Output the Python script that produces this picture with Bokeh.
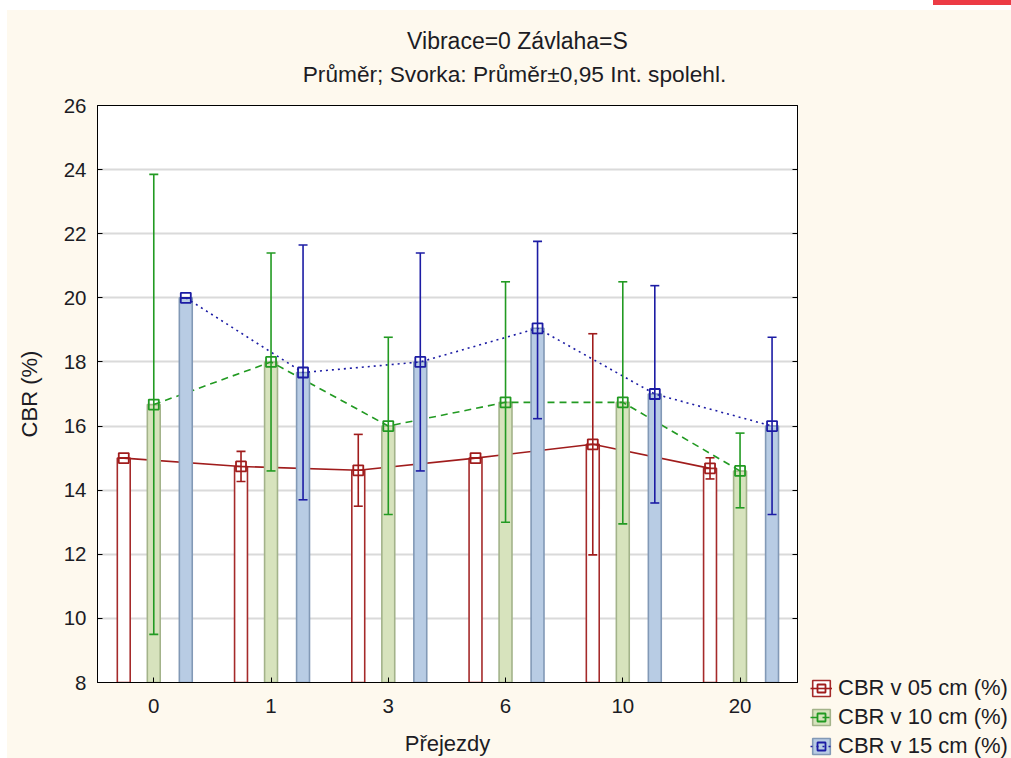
from bokeh.plotting import figure
from bokeh.models import (ColumnDataSource, Whisker, TeeHead, Legend, LegendItem, Label,
                          LinearAxis, FixedTicker, Range1d, Div)
from bokeh.layouts import column, row
from bokeh.embed import file_html
from bokeh.resources import INLINE

# Number of passes (x categories)
passes = ["0", "1", "3", "6", "10", "20"]

# CBR at 5 cm depth: mean and 95 % confidence limits
cbr05_mean = [15.0, 14.74, 14.62, 15.0, 15.43, 14.68]
cbr05_low = [15.0, 14.27, 13.50, 15.0, 11.98, 14.35]
cbr05_high = [15.0, 15.21, 15.74, 15.0, 18.88, 15.01]

# CBR at 10 cm depth
cbr10_mean = [16.67, 18.0, 16.0, 16.74, 16.74, 14.6]
cbr10_low = [9.5, 14.6, 13.24, 13.0, 12.95, 13.45]
cbr10_high = [23.85, 21.4, 18.77, 20.5, 20.5, 15.78]

# CBR at 15 cm depth
cbr15_mean = [20.0, 17.67, 18.0, 19.05, 17.0, 16.0]
cbr15_low = [20.0, 13.7, 14.6, 16.23, 13.6, 13.24]
cbr15_high = [20.0, 21.65, 21.4, 21.76, 20.38, 18.77]

series_names = ["CBR v 05 cm (%)", "CBR v 10 cm (%)", "CBR v 15 cm (%)"]
title_text = "Vibrace=0 Závlaha=S"
subtitle_text = "Průměr; Svorka: Průměr±0,95 Int. spolehl."

Y0, Y1 = 8, 26
FONT = "Liberation Sans"
TXT = "#1c1c24"
PAGE_BG = "#fef9ee"

# ---------------------------------------------------------------- title strip
head = figure(width=1004, height=83, x_range=Range1d(0, 1), y_range=Range1d(0, 1),
              output_backend="svg", toolbar_location=None,
              x_axis_location=None, y_axis_location=None,
              min_border=0, outline_line_color=None,
              background_fill_color=PAGE_BG, border_fill_color=PAGE_BG)
head.grid.visible = False
head.frame_align = False
head.add_layout(Label(x=510, y=53, x_units="screen", y_units="screen",
                      text=title_text, text_align="center", text_baseline="middle",
                      text_font=FONT, text_font_size="23px", text_color=TXT))
head.add_layout(Label(x=507, y=20, x_units="screen", y_units="screen",
                      text=subtitle_text, text_align="center", text_baseline="middle",
                      text_font=FONT, text_font_size="22.7px", text_color=TXT))

# ---------------------------------------------------------------- main chart
p = figure(width=798, height=665,
           x_range=Range1d(-0.48, 5.49), y_range=Range1d(Y0, Y1),
           output_backend="svg", toolbar_location=None,
           min_border_left=90, min_border_right=8,
           min_border_top=12, min_border_bottom=76,
           background_fill_color="white", border_fill_color=PAGE_BG,
           outline_line_color="black", outline_line_width=1)
p.frame_align = False

yticks = list(range(Y0, Y1 + 1, 2))

p.xgrid.visible = False
p.ygrid.grid_line_color = "#dadada"
p.ygrid.grid_line_width = 2
p.ygrid.ticker = FixedTicker(ticks=yticks)

p.xaxis.ticker = FixedTicker(ticks=list(range(len(passes))))
p.xaxis.major_label_overrides = {i: s for i, s in enumerate(passes)}
p.yaxis.ticker = FixedTicker(ticks=yticks)

for ax in (p.xaxis[0], p.yaxis[0]):
    ax.axis_line_color = "black"
    ax.major_tick_line_color = "black"
    ax.major_tick_in = 5
    ax.major_tick_out = 0
    ax.minor_tick_line_color = None
    ax.major_label_text_font = FONT
    ax.major_label_text_font_size = "20.5px"
    ax.major_label_text_color = TXT
    ax.axis_label_text_font = FONT
    ax.axis_label_text_font_size = "22px"
    ax.axis_label_text_font_style = "normal"
    ax.axis_label_text_color = TXT

p.xaxis.axis_label = "Přejezdy"
p.yaxis.axis_label = "CBR (%)"
p.xaxis.major_label_standoff = 16
p.yaxis.major_label_standoff = 11
p.xaxis.axis_label_standoff = 15
p.yaxis.axis_label_standoff = 19

# inward ticks along the right edge of the frame
right_ax = LinearAxis(ticker=FixedTicker(ticks=yticks), major_label_text_color=None,
                      major_label_text_font_size="1px",
                      axis_line_color="black", major_tick_line_color="black",
                      major_tick_in=5, major_tick_out=0, minor_tick_line_color=None,
                      major_label_standoff=0)
p.add_layout(right_ax, "right")

styles = [
    dict(mean=cbr05_mean, low=cbr05_low, high=cbr05_high, off=-0.256,
         fill="white", edge="#a52a2a", color="#a01c1c", dash="solid"),
    dict(mean=cbr10_mean, low=cbr10_low, high=cbr10_high, off=0.0,
         fill="#d7e3bd", edge="#a3b38a", color="#229a22", dash="7 5"),
    dict(mean=cbr15_mean, low=cbr15_low, high=cbr15_high, off=0.273,
         fill="#b8cce4", edge="#8299b6", color="#1c1ca4", dash="2 4"),
]

# ---------------------------------------------------------------- legend panel
# Hidden copies of the series renderers give the legend its swatches.
key = figure(width=206, height=665, x_range=Range1d(0, 1), y_range=Range1d(0, 1),
             output_backend="svg", toolbar_location=None,
             x_axis_location=None, y_axis_location=None,
             min_border=0, outline_line_color=None,
             background_fill_color=PAGE_BG, border_fill_color=PAGE_BG)
key.grid.visible = False
key.frame_align = False

items = []
for name, s in zip(series_names, styles):
    xs = [i + s["off"] for i in range(len(passes))]
    src = ColumnDataSource(dict(x=xs, mean=s["mean"], low=s["low"], high=s["high"]))
    bar_style = dict(fill_color=s["fill"], line_color=s["edge"], line_width=1.6)
    line_style = dict(line_color=s["color"], line_width=1.6, line_dash=s["dash"])
    mark_style = dict(marker="square", size=10, fill_color=None,
                      line_color=s["color"], line_width=1.8)

    p.vbar(x="x", top="mean", bottom=Y0, width=0.11, source=src, **bar_style)
    p.line("x", "mean", source=src, **line_style)
    whisk = Whisker(base="x", lower="low", upper="high", source=src,
                    line_color=s["color"], line_width=1.6, level="glyph",
                    upper_head=TeeHead(size=9, line_color=s["color"], line_width=1.6),
                    lower_head=TeeHead(size=9, line_color=s["color"], line_width=1.6))
    p.add_layout(whisk)
    p.scatter("x", "mean", source=src, **mark_style)

    kb = key.vbar(x="x", top="mean", bottom=Y0, width=0.11, source=src,
                  visible=False, **bar_style)
    kl = key.line("x", "mean", source=src, visible=False, **line_style)
    km = key.scatter("x", "mean", source=src, visible=False, **mark_style)
    items.append(LegendItem(label=name, renderers=[kb, kl, km]))

legend = Legend(items=items, location=(5, -1), padding=0, margin=0,
                border_line_color=None, background_fill_alpha=0,
                glyph_width=22, glyph_height=20, label_height=19,
                spacing=3, label_standoff=6,
                label_text_font=FONT, label_text_font_size="22px",
                label_text_color=TXT)
key.add_layout(legend, "center")

strip = Div(text="", width=78, height=5, margin=(0, 0, 5, 933),
            styles={"background-color": "#ec3b45"})

# cream backing behind the panels so no seams show between them
body = column(head, row(p, key, spacing=0), spacing=0, margin=(0, 0, 0, 7),
              styles={"background-color": PAGE_BG})

layout = column(strip, body, spacing=0)

with open("out.html", "w") as f:
    f.write(file_html(layout, INLINE))
